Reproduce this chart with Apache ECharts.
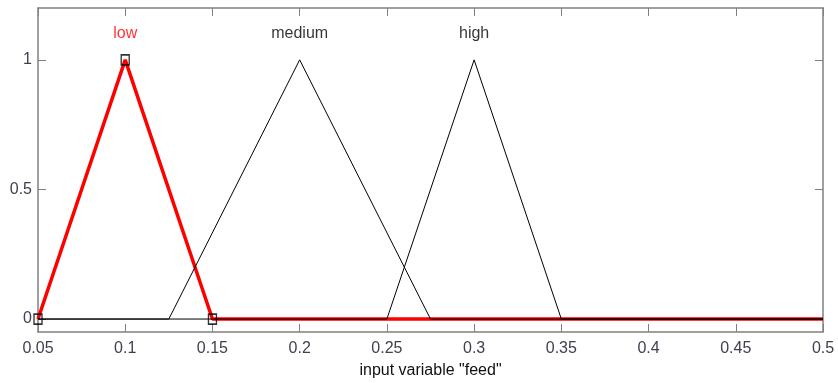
<!DOCTYPE html>
<html>
<head>
<meta charset="utf-8">
<script src="https://cdn.jsdelivr.net/npm/echarts@6/dist/echarts.min.js"></script>
<style>
html,body{margin:0;padding:0;background:#fff;}
#main{width:838px;height:383px;}
</style>
</head>
<body>
<div id="main"></div>
<script>
// membership functions of input "feed"
var mfNames = ['low', 'medium', 'high'];
var mfPeakX = [0.1, 0.2, 0.3];
var lowX = [0.05, 0.1, 0.15, 0.5];
var lowY = [0, 1, 0, 0];
var mediumX = [0.05, 0.125, 0.2, 0.275, 0.5];
var mediumY = [0, 0, 1, 0, 0];
var highX = [0.05, 0.25, 0.3, 0.35, 0.5];
var highY = [0, 0, 1, 0, 0];
var lowVertexX = [0.05, 0.1, 0.15];
var lowVertexY = [0, 1, 0];
var yTicks = [0, 0.5, 1];
var labelY = 1.1;

function pairs(xs, ys) {
	var out = [];
	for (var i = 0; i < xs.length; i++) {
		out.push([xs[i], ys[i]]);
	}
	return out;
}

var chart = echarts.init(document.getElementById('main'));
var axisColor = '#808080';
var font = 'Liberation Sans, Arial, sans-serif';

var labelData = [];
for (var i = 0; i < mfNames.length; i++) {
	labelData.push({
		value: [mfPeakX[i], labelY],
		label: {color: i == 0 ? '#ff0000' : '#000'}
	});
}

var xBase = {
	type: 'value', min: 0.05, max: 0.5, interval: 0.05,
	splitLine: {show: false},
	axisLine: {onZero: false, lineStyle: {color: axisColor, width: 1.5}},
	axisTick: {inside: true, length: 8, lineStyle: {color: axisColor}}
};
var yBase = {
	type: 'value', min: -0.05, max: 1.2,
	splitLine: {show: false},
	axisLine: {show: true, onZero: false, lineStyle: {color: axisColor, width: 1.5}},
	axisTick: {show: true, inside: true, length: 8, customValues: yTicks, lineStyle: {color: axisColor}}
};

var option = {
	animation: false,
	grid: {left: 38, right: 15, top: 8, bottom: 51, containLabel: false, outerBoundsMode: 'none'},
	xAxis: [
		Object.assign({}, xBase, {
			position: 'bottom',
			name: 'input variable "feed"',
			nameLocation: 'middle',
			nameGap: 31,
			nameTextStyle: {color: '#111', fontSize: 16, fontFamily: font},
			axisLabel: {color: '#404050', fontSize: 16, fontFamily: font, margin: 9}
		}),
		Object.assign({}, xBase, {position: 'top', axisLabel: {show: false}})
	],
	yAxis: [
		Object.assign({}, yBase, {
			position: 'left',
			axisLabel: {color: '#404050', fontSize: 16, fontFamily: font, margin: 6, customValues: yTicks}
		}),
		Object.assign({}, yBase, {position: 'right', axisLabel: {show: false}})
	],
	series: [
		{
			type: 'line', data: pairs(lowX, lowY), symbol: 'none', z: 2,
			lineStyle: {color: '#ff0000', width: 3.5}
		},
		{
			type: 'line', data: pairs(mediumX, mediumY), symbol: 'none', z: 3,
			lineStyle: {color: '#000', width: 1}
		},
		{
			type: 'line', data: pairs(highX, highY), symbol: 'none', z: 3,
			lineStyle: {color: '#000', width: 1}
		},
		{
			type: 'scatter', data: pairs(lowVertexX, lowVertexY), symbol: 'rect', symbolSize: [8, 10], z: 4,
			itemStyle: {color: 'rgba(0,0,0,0)', borderColor: '#000', borderWidth: 1.5}
		},
		{
			type: 'scatter', data: labelData, symbolSize: 0, z: 5,
			label: {show: true, position: 'inside', formatter: function(p) { return mfNames[p.dataIndex]; },
				fontSize: 16, fontFamily: font}
		}
	]
};
chart.setOption(option);
</script>
</body>
</html>
